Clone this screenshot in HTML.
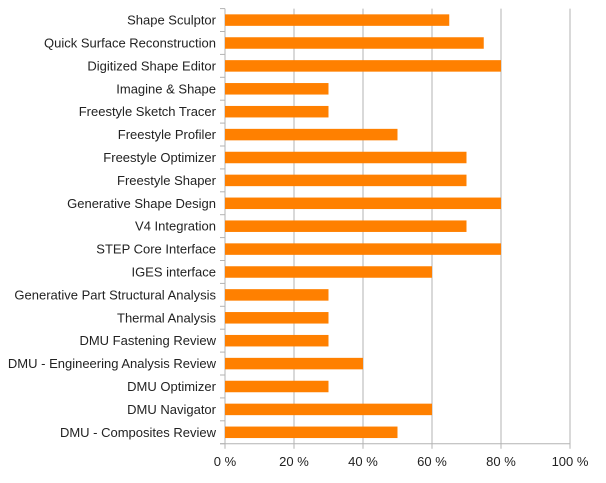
<!DOCTYPE html>
<html><head><meta charset="utf-8"><style>
body{margin:0;background:#fff;}
svg text{font-family:"Liberation Sans",sans-serif;font-size:13px;fill:#222;}
</style></head><body>
<svg id="chart" width="606" height="478"></svg>
<script>
const categories=["Shape Sculptor","Quick Surface Reconstruction","Digitized Shape Editor","Imagine & Shape","Freestyle Sketch Tracer","Freestyle Profiler","Freestyle Optimizer","Freestyle Shaper","Generative Shape Design","V4 Integration","STEP Core Interface","IGES interface","Generative Part Structural Analysis","Thermal Analysis","DMU Fastening Review","DMU - Engineering Analysis Review","DMU Optimizer","DMU Navigator","DMU - Composites Review"];
const values=[65,75,80,30,30,50,70,70,80,70,80,60,30,30,30,40,30,60,50];
const ticks=[0,20,40,60,80,100];
const tickLabels=["0 %","20 %","40 %","60 %","80 %","100 %"];
const svg=document.getElementById('chart');
const NS="http://www.w3.org/2000/svg";
const X0=225,X1=570,Y0=8.6,Y1=443.7;
const xs=v=>X0+(v/100)*(X1-X0);
const rowH=(Y1-Y0)/categories.length;
function mk(t,a){const e=document.createElementNS(NS,t);for(const k in a)e.setAttribute(k,a[k]);svg.appendChild(e);return e;}
ticks.forEach((t,i)=>{
 const g=mk('line',{x1:xs(t),x2:xs(t),y1:Y0,y2:Y1+5,stroke:'#b3b3b3','stroke-width':1});
 
 
 const l=mk('text',{x:xs(t),y:466,'text-anchor':'middle'});l.textContent=tickLabels[i];
 
 
});
for(let i=0;i<=categories.length;i++){
 const tk=mk('line',{x1:X0-5,x2:X0,y1:Y0+i*rowH,y2:Y0+i*rowH,stroke:'#b3b3b3'});
 
 
}
const ax=mk('line',{x1:X0-5,x2:X1,y1:Y1,y2:Y1,stroke:'#b3b3b3'});


categories.forEach((c,i)=>{
 const yc=Y0+(i+0.5)*rowH;
 const b=mk('rect',{x:X0,y:yc-5.7,width:xs(values[i])-X0,height:11.5,fill:'#ff8000'});
 
 
 const t=mk('text',{x:216,y:yc+4.5,'text-anchor':'end'});t.textContent=c;
 
 
});
</script>
</body></html>
